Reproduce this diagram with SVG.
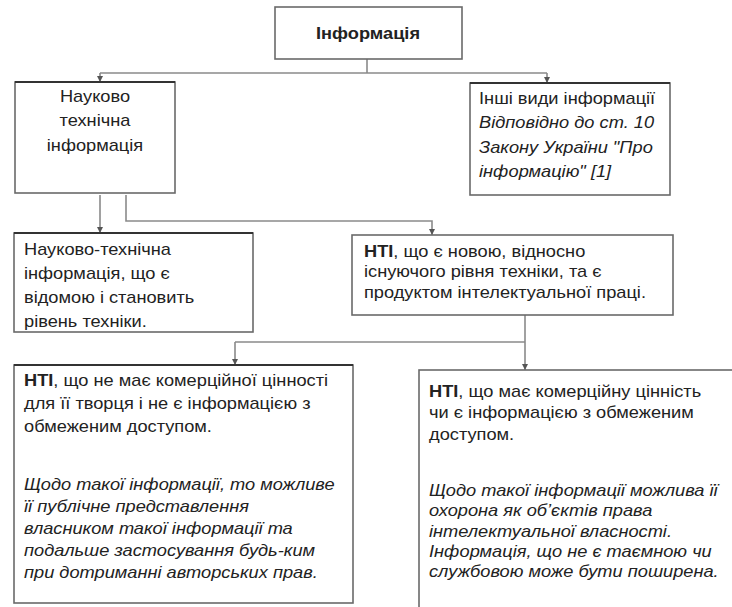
<svg xmlns="http://www.w3.org/2000/svg" width="732" height="607" viewBox="0 0 732 607">
<defs>
<style>
.box{fill:#fff;stroke:#6a6a6a;stroke-width:1.6}
.top{stroke:#333;stroke-width:2.2}
.t{font-family:"Liberation Sans",Arial,sans-serif;font-size:16px;fill:#222}
.b{font-weight:bold}
.i{font-style:italic}
.c{fill:none;stroke:#8a8a8a;stroke-width:1.6}
</style>
<marker id="ah" viewBox="0 0 10 10" refX="10" refY="5" markerWidth="6" markerHeight="6" orient="auto" markerUnits="userSpaceOnUse">
<path d="M0,0 L10,5 L0,10 Z" fill="#555"/>
</marker>
</defs>
<rect width="732" height="607" fill="#fff"/>
<g id="connectors">
<path class="c" d="M367,59 V73"/>
<path class="c" d="M100,73 H547"/>
<path class="c" d="M100,73 V82" marker-end="url(#ah)"/>
<path class="c" d="M547,73 V83" marker-end="url(#ah)"/>
<path class="c" d="M100,195 V233" marker-end="url(#ah)"/>
<path class="c" d="M126,195 V221 H432 V235" marker-end="url(#ah)"/>
<path class="c" d="M525,315 V370" marker-end="url(#ah)"/>
<path class="c" d="M235,342 H525"/>
<path class="c" d="M235,342 V365" marker-end="url(#ah)"/>
</g>
<g id="n_info">
<rect class="box" x="275" y="7" width="187" height="52"/>
<text class="t b" transform="translate(368,0) scale(1.14,1)" x="0" y="39" text-anchor="middle" font-size="20">Інформація</text>
</g>
<g id="n_nti">
<rect class="box" x="15" y="82" width="160" height="111"/>
<line class="top" x1="15" y1="82" x2="175" y2="82"/>
<text class="t" transform="translate(95,0) scale(1.14,1)" text-anchor="middle" font-size="17.3"><tspan x="0" y="102">Науково</tspan><tspan x="0" y="126">технічна</tspan><tspan x="0" y="151">інформація</tspan></text>
</g>
<g id="n_other">
<rect class="box" x="470" y="83" width="200" height="112"/>
<line class="top" x1="470" y1="83" x2="670" y2="83"/>
<text class="t" transform="translate(479,0) scale(1.14,1)" font-size="17.3"><tspan x="0" y="104">Інші види інформації</tspan><tspan class="i" x="0" y="128">Відповідно до ст. 10</tspan><tspan class="i" x="0" y="153">Закону України "Про</tspan><tspan class="i" x="0" y="177">інформацію" [1]</tspan></text>
</g>
<g id="n_known">
<rect class="box" x="14" y="233" width="239" height="99"/>
<line class="top" x1="14" y1="233" x2="253" y2="233"/>
<text class="t" transform="translate(24,0) scale(1.14,1)" font-size="17.3"><tspan x="0" y="255">Науково-технічна</tspan><tspan x="0" y="279">інформація, що є</tspan><tspan x="0" y="303">відомою і становить</tspan><tspan x="0" y="327">рівень техніки.</tspan></text>
</g>
<g id="n_new">
<rect class="box" x="352" y="235" width="321" height="80"/>
<text class="t" transform="translate(364,0) scale(1.14,1)"><tspan x="0" y="257"><tspan class="b">НТІ</tspan>, що є новою, відносно</tspan><tspan x="0" y="277">існуючого рівня техніки, та є</tspan><tspan x="0" y="298">продуктом інтелектуальної праці.</tspan></text>
</g>
<g id="n_noncom">
<rect class="box" x="14" y="365" width="339" height="238"/>
<line class="top" x1="14" y1="365" x2="353" y2="365"/>
<text class="t" transform="translate(24,0) scale(1.14,1)"><tspan x="0" y="386"><tspan class="b">НТІ</tspan>, що не має комерційної цінності</tspan><tspan x="0" y="409">для її творця і не є інформацією з</tspan><tspan x="0" y="432">обмеженим доступом.</tspan></text>
<text class="t i" transform="translate(24,0) scale(1.14,1)"><tspan x="0" y="490">Щодо такої інформації, то можливе</tspan><tspan x="0" y="512">її публічне представлення</tspan><tspan x="0" y="534">власником такої інформації та</tspan><tspan x="0" y="556">подальше застосування будь-ким</tspan><tspan x="0" y="578">при дотриманні авторських прав.</tspan></text>
</g>
<g id="n_com">
<rect class="box" x="419" y="370" width="330" height="250"/>
<text class="t" transform="translate(429,0) scale(1.14,1)" font-size="16.4"><tspan x="0" y="397"><tspan class="b">НТІ</tspan>, що має комерційну цінність</tspan><tspan x="0" y="418">чи є інформацією з обмеженим</tspan><tspan x="0" y="440">доступом.</tspan></text>
<text class="t i" transform="translate(429,0) scale(1.14,1)" font-size="16.6"><tspan x="0" y="496">Щодо такої інформації можлива її</tspan><tspan x="0" y="516">охорона як об’єктів права</tspan><tspan x="0" y="537">інтелектуальної власності.</tspan><tspan x="0" y="557">Інформація, що не є таємною чи</tspan><tspan x="0" y="577">службовою може бути поширена.</tspan></text>
</g>
</svg>
